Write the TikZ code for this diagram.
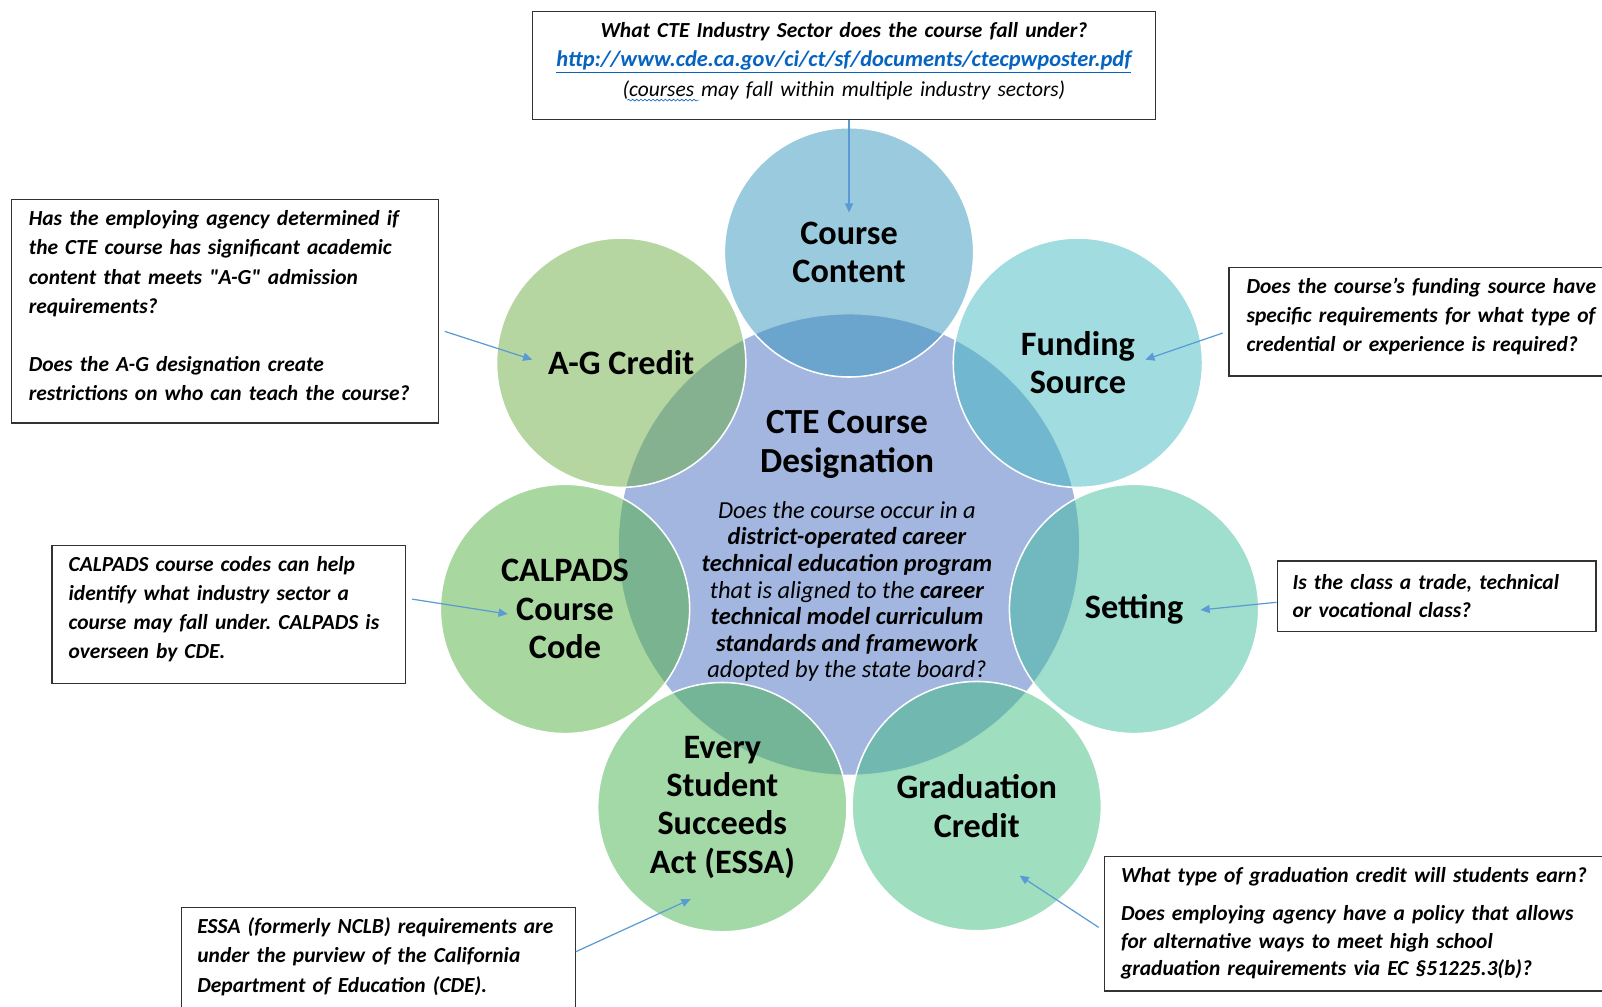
\documentclass[tikz,border=0pt]{standalone}
\usepackage{fontspec}
\setmainfont{Carlito}[Ligatures=TeXOff]
\usetikzlibrary{arrows.meta,decorations.pathmorphing}
\definecolor{ctrC}{RGB}{162,182,224}
\definecolor{ccC}{RGB}{54,149,190}
\definecolor{agC}{RGB}{107,173,65}
\definecolor{fsC}{RGB}{65,185,193}
\definecolor{stC}{RGB}{65,189,157}
\definecolor{gcC}{RGB}{65,189,129}
\definecolor{esC}{RGB}{71,179,80}
\definecolor{cpC}{RGB}{81,177,63}
\definecolor{arrowblue}{RGB}{91,155,213}
\definecolor{urlblue}{RGB}{5,99,193}
\definecolor{boxline}{RGB}{50,50,50}
\newcommand{\lblfont}{\fontsize{33.5}{37.5}\selectfont\bfseries}
\newcommand{\ttlfont}{\fontsize{34.5}{37.5}\selectfont\bfseries}
\newcommand{\bxfont}{\fontsize{21}{28.5}\selectfont\bfseries\itshape}
\newcommand{\bi}[1]{\textbf{\textit{#1}}}
\frenchspacing
\begin{document}
\begin{tikzpicture}[x=1pt,y=-1pt,
  ctrcirc/.style={circle, draw=white, line width=1.5pt, fill=ctrC, minimum size=452pt, inner sep=0pt},
  outer/.style={circle, draw=white, line width=1.5pt, fill opacity=0.5, text opacity=1, minimum size=244pt, inner sep=0pt, align=center, font=\lblfont},
  ttl/.style={align=center, font=\ttlfont, inner sep=0pt},
  qtxt/.style={align=center, font=\fontsize{23.9}{26}\selectfont\itshape, inner sep=0pt},
  qbox/.style={draw=boxline, line width=1.2pt, fill=white, inner sep=0pt},
  boxtxt/.style={anchor=base west, inner sep=0pt, align=left, font=\bxfont},
  conn/.style={draw=arrowblue, line width=1.2pt, -{Triangle[length=9pt,width=8pt]}}
]
\useasboundingbox (0,0) rectangle (1568,985.6);

% central circle
\node[ctrcirc] (ctr) at (831,533) {};

% outer circles
\node[outer, fill=ccC] (cc) at (831,247) {Course\\Content};
\node[outer, fill=agC] (ag) at (608,355) {A-G Credit};
\node[outer, fill=cpC] (cp) at (553,596) {CALPADS\\Course\\Code};
\node[outer, fill=esC] (es) at (707,790) {Every\\Student\\Succeeds\\Act (ESSA)};
\node[outer, fill=gcC] (gc) at (956,789) {Graduation\\Credit};
\node[outer, fill=stC] (st) at (1110,596) {Setting};
\node[outer, fill=fsC] (fs) at (1055,355) {Funding\\Source};

% centre texts
\node[ttl] (ctrtitle) at (829,435) {CTE Course\\Designation};
\node[qtxt] (ctrq) at (829,579) {Does the course occur in a\\
\bi{district-operated career}\\
\bi{technical education program}\\
that is aligned to the \bi{career}\\
\bi{technical model curriculum}\\
\bi{standards and framework}\\
adopted by the state board?};

% boxes
\node[qbox, minimum width=610pt, minimum height=106pt] (topbox) at (826,64) {};
\node[boxtxt, anchor=base, align=center, text width=600pt] (toptext) at (826,37)
 {What CTE Industry Sector does the course fall under?\\
 {\fontsize{22}{28.5}\selectfont\color{urlblue}\underline{http://www.cde.ca.gov/ci/ct/sf/documents/ctecpwposter.pdf}}\\
 \mdseries(courses may fall within multiple industry sectors)};
\draw[urlblue, line width=0.6pt, decorate, decoration={snake, amplitude=0.9pt, segment length=4pt}] (614,98) -- (684,98);

\node[qbox, minimum width=418pt, minimum height=219pt] (agbox) at (220,304.5) {};
\node[boxtxt, text width=400pt] (agtext) at (28,221)
 {Has the employing agency determined if\\
 the CTE course has significant academic\\
 content that meets "A-G" admission\\
 requirements?\\[28.5pt]
 Does the A-G designation create\\
 restrictions on who can teach the course?};

\node[qbox, minimum width=377pt, minimum height=106pt] (fsbox) at (1391.5,315) {};
\node[boxtxt, text width=400pt] (fstext) at (1220,287)
 {Does the course’s funding source have\\
 specific requirements for what type of\\
 credential or experience is required?};

\node[qbox, minimum width=346pt, minimum height=135pt] (cpbox) at (224,601.5) {};
\node[boxtxt, text width=340pt] (cptext) at (67,559)
 {CALPADS course codes can help\\
 identify what industry sector a\\
 course may fall under. CALPADS is\\
 overseen by CDE.};

\node[qbox, minimum width=312pt, minimum height=69pt] (stbox) at (1406,583.5) {};
\node[boxtxt, text width=300pt, font=\fontsize{21}{27}\selectfont\bfseries\itshape] (sttext) at (1265,577)
 {Is the class a trade, technical\\
 or vocational class?};

\node[qbox, minimum width=385pt, minimum height=107pt] (esbox) at (370.5,941.5) {};
\node[boxtxt, text width=380pt] (estext) at (193,914)
 {ESSA (formerly NCLB) requirements are\\
 under the purview of the California\\
 Department of Education (CDE).};

\node[qbox, minimum width=499pt, minimum height=132pt] (gcbox) at (1330.5,904) {};
\node[boxtxt, text width=480pt, font=\fontsize{21}{27}\selectfont\bfseries\itshape] (gctext) at (1097,864)
 {What type of graduation credit will students earn?\\[10pt]
 Does employing agency have a policy that allows\\
 for alternative ways to meet high school\\
 graduation requirements via EC §51225.3(b)?};

% arrow tips
\coordinate (cctip) at (831,208);
\coordinate (agtip) at (521,352);
\coordinate (fstip) at (1121,352);
\coordinate (cptip) at (497,601);
\coordinate (sttip) at (1175,597);
\coordinate (estip) at (676,880);
\coordinate (gctip) at (998,857);

% connectors
\draw[conn] (topbox.south -| cctip) -- (cctip);
\draw[conn, shorten <=6pt] ([yshift=-18pt]agbox.east) -- (agtip);
\draw[conn, shorten <=6pt] ([yshift=-9pt]fsbox.west) -- (fstip);
\draw[conn, shorten <=6pt] ([yshift=16pt]cpbox.east) -- (cptip);
\draw[conn] ([yshift=-6pt]stbox.west) -- (sttip);
\draw[conn] ([yshift=10pt]esbox.east) -- (estip);
\draw[conn, shorten <=6pt] ([yshift=-7pt]gcbox.west) -- (gctip);
\end{tikzpicture}
\end{document}
